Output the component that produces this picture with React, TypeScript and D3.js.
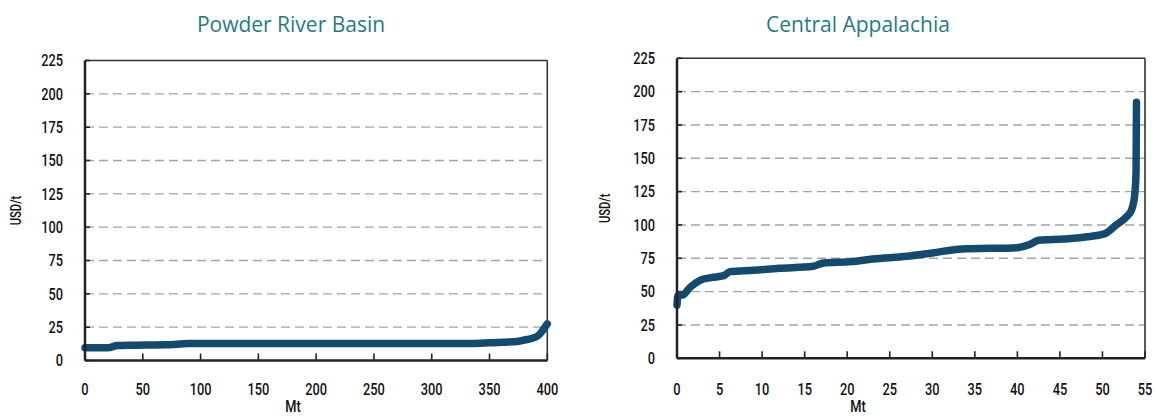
import * as d3 from 'd3';

// Powder River Basin cost curve: cumulative Mt vs USD/t
const prbMt = [0, 20, 28, 40, 70, 90, 150, 250, 335, 350, 374, 378, 391, 400];
const prbCost = [9.5, 9.6, 11.2, 11.5, 11.8, 12.7, 12.8, 12.8, 12.8, 13.3, 14.3, 15, 18, 27.5];

// Central Appalachia cost curve
const capMt = [0, 0.1, 0.7, 1.5, 2.7, 4, 5.5, 6.2, 9, 12, 16, 17.2, 20.5, 23, 27, 30, 33.5, 40, 41.5, 42.5, 45.5, 48, 50.3, 51.6, 52.8, 53.4, 53.8, 53.95, 54];
const capCost = [40, 47, 47.5, 53, 58.5, 60.5, 62, 65, 66, 67.5, 69, 71.5, 72.5, 74.5, 76.5, 79, 82, 83, 85.5, 88.5, 89.5, 91, 93.5, 100, 106, 111, 123, 140, 192];

const yTicks = [0, 25, 50, 75, 100, 125, 150, 175, 200, 225];
const prbXTicks = [0, 50, 100, 150, 200, 250, 300, 350, 400];
const capXTicks = [0, 5, 10, 15, 20, 25, 30, 35, 40, 45, 50, 55];

const tickFont = 'Roboto, "Liberation Sans", sans-serif';
const titleFont = '"Open Sans", "Noto Sans", sans-serif';
const lineColor = '#154a6f';
const titleColor = '#1f7b85';

// condensed-looking label: regular font squeezed horizontally
function NarrowText({ x, y, anchor = 'middle', size = 16, rotate = 0, children }: {
  x: number; y: number; anchor?: string; size?: number; rotate?: number; children: any;
}) {
  return (
    <text
      transform={`translate(${x},${y}) rotate(${rotate}) scale(0.8,1)`}
      textAnchor={anchor}
      fontFamily={tickFont}
      fontWeight={500}
      fontSize={size}
      fill="#111"
    >
      {children}
    </text>
  );
}

interface PanelProps {
  title: string;
  xs: number[];
  ys: number[];
  xMax: number;
  xTicks: number[];
  left: number;
  right: number;
  top: number;
  bottom: number;
  titleX: number;
  mtX: number;
  unitX: number;
}

function Panel({ title, xs, ys, xMax, xTicks, left, right, top, bottom, titleX, mtX, unitX }: PanelProps) {
  const x = d3.scaleLinear().domain([0, xMax]).range([left, right]);
  const y = d3.scaleLinear().domain([0, 225]).range([bottom, top]);
  const pts = xs.map((v, i) => [v, ys[i]] as [number, number]);
  const line = d3.line<[number, number]>()
    .x(d => x(d[0]))
    .y(d => y(d[1]))
    .curve(d3.curveMonotoneX);

  return (
    <g>
      <text x={titleX} y={32} textAnchor="middle" fontFamily={titleFont} fontSize={21} fill={titleColor}>
        {title}
      </text>

      {/* gridlines */}
      {yTicks.filter(t => t > 0 && t < 225).map(t => (
        <line key={t} x1={left} x2={right} y1={y(t)} y2={y(t)} stroke="#a3a3a3" strokeWidth={1.4} strokeDasharray="9,5" />
      ))}

      {/* frame */}
      <line x1={left} x2={right} y1={top} y2={top} stroke="#333" strokeWidth={1.6} />
      <line x1={right} x2={right} y1={top} y2={bottom} stroke="#333" strokeWidth={1.6} />

      {/* y ticks */}
      {yTicks.map(t => (
        <g key={t}>
          <line x1={left} x2={left + 5} y1={y(t)} y2={y(t)} stroke="#222" strokeWidth={1.6} />
          <NarrowText x={left - 22} y={y(t) + 5.8} anchor="end">{t}</NarrowText>
        </g>
      ))}

      {/* x ticks */}
      {xTicks.map(t => (
        <g key={t}>
          <line x1={x(t)} x2={x(t)} y1={bottom} y2={bottom - 7} stroke="#222" strokeWidth={1.6} />
          <NarrowText x={x(t)} y={395}>{t}</NarrowText>
        </g>
      ))}

      <path d={line(pts) || ''} fill="none" stroke={lineColor} strokeWidth={7.5} strokeLinecap="round" strokeLinejoin="round" />

      {/* axes */}
      <line x1={left} x2={left} y1={top} y2={bottom} stroke="#222" strokeWidth={2.5} />
      <line x1={left} x2={right} y1={bottom} y2={bottom} stroke="#222" strokeWidth={2.5} />

      <NarrowText x={mtX} y={412}>Mt</NarrowText>
      <NarrowText x={unitX + 5} y={(top + bottom) / 2} rotate={-90} size={14}>USD/t</NarrowText>
    </g>
  );
}

export default function App() {
  return (
    <svg width={1157} height={417} style={{ position: 'absolute', left: 0, top: 0, background: '#fff' }}>
      <Panel
        title="Powder River Basin"
        xs={prbMt}
        ys={prbCost}
        xMax={400}
        xTicks={prbXTicks}
        left={85}
        right={547.3}
        top={60.5}
        bottom={360.5}
        titleX={291}
        mtX={293}
        unitX={16}
      />
      <Panel
        title="Central Appalachia"
        xs={capMt}
        ys={capCost}
        xMax={55}
        xTicks={capXTicks}
        left={677}
        right={1145}
        top={58.3}
        bottom={358.3}
        titleX={858}
        mtX={858}
        unitX={605}
      />
    </svg>
  );
}
